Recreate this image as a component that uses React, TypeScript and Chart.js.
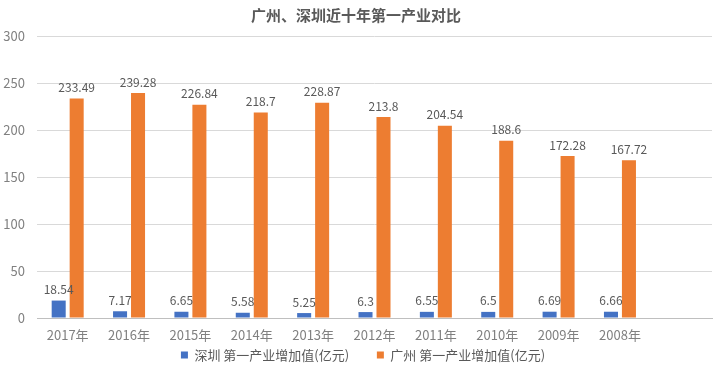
import React, { useEffect, useRef } from "react";
import { Chart, registerables } from "chart.js";

Chart.register(...registerables);

const categories = ["2017年", "2016年", "2015年", "2014年", "2013年", "2012年", "2011年", "2010年", "2009年", "2008年", ""];
const shenzhen = [18.54, 7.17, 6.65, 5.58, 5.25, 6.3, 6.55, 6.5, 6.69, 6.66, null];
const guangzhou = [233.49, 239.28, 226.84, 218.7, 228.87, 213.8, 204.54, 188.6, 172.28, 167.72, null];
const seriesNames = ["深圳 第一产业增加值(亿元)", "广州 第一产业增加值(亿元)"];
const titleText = "广州、深圳近十年第一产业对比";

const FONT = "'Noto Sans CJK SC', 'Noto Sans', sans-serif";

const valueLabels = {
  id: "valueLabels",
  afterDatasetsDraw(chart: any) {
    const ctx = chart.ctx;
    ctx.save();
    ctx.font = `12px ${FONT}`;
    ctx.fillStyle = "#595959";
    ctx.textAlign = "center";
    ctx.textBaseline = "middle";
    chart.data.datasets.forEach((ds: any, i: number) => {
      const meta = chart.getDatasetMeta(i);
      meta.data.forEach((el: any, j: number) => {
        const v = ds.data[j];
        if (v === null || v === undefined) return;
        ctx.fillText(String(v), el.x, el.y - 11);
      });
    });
    ctx.restore();
  },
};

const legendShift = {
  id: "legendShift",
  afterLayout(chart: any) {
    if (chart.legend) {
      chart.legend.left += 7;
      chart.legend.right += 7;
    }
  },
};

export default function App() {
  const ref = useRef<HTMLCanvasElement>(null);
  useEffect(() => {
    document.body.style.margin = "0";
    const chart = new Chart(ref.current!, {
      type: "bar",
      data: {
        labels: categories,
        datasets: [
          {
            label: seriesNames[0],
            data: shenzhen,
            backgroundColor: "#4472C4",
            categoryPercentage: 0.586,
            barPercentage: 0.78,
          },
          {
            label: seriesNames[1],
            data: guangzhou,
            backgroundColor: "#ED7D31",
            categoryPercentage: 0.586,
            barPercentage: 0.78,
          },
        ],
      },
      options: {
        responsive: false,
        animation: false,
        layout: { padding: { left: 0, right: 8, top: 4, bottom: 7.5 } },
        plugins: {
          title: {
            display: true,
            text: titleText,
            color: "#595959",
            font: { family: FONT, size: 15, weight: "bold" },
            padding: { top: 2, bottom: 12 },
          },
          legend: {
            position: "bottom",
            labels: {
              color: "#595959",
              font: { family: FONT, size: 13 },
              boxWidth: 7,
              boxHeight: 7,
              padding: 6,
              generateLabels(chart: any) {
                const items = Chart.defaults.plugins.legend.labels.generateLabels(chart);
                return items.map((it: any, i: number) =>
                  i === 0 ? { ...it, text: it.text + "\u3000   " } : it
                );
              },
            },
          },
          tooltip: { enabled: false },
        },
        scales: {
          x: {
            grid: { display: false, drawTicks: false },
            border: { color: "#bfbfbf" },
            ticks: { color: "#808080", font: { family: FONT, size: 13 }, padding: 9 },
            afterFit(scale: any) {
              scale.height = 24.5;
            },
          },
          y: {
            min: 0,
            max: 300,
            ticks: { stepSize: 50, color: "#808080", font: { family: FONT, size: 13 }, padding: 12 },
            grid: { color: "#d9d9d9", drawTicks: false },
            border: { display: false },
            afterFit(scale: any) {
              scale.width = 37;
            },
          },
        },
      },
      plugins: [valueLabels, legendShift],
    });
    return () => chart.destroy();
  }, []);
  return (
    <div style={{ width: 720, height: 379, background: "#fff" }}>
      <canvas ref={ref} width={720} height={379} />
    </div>
  );
}
